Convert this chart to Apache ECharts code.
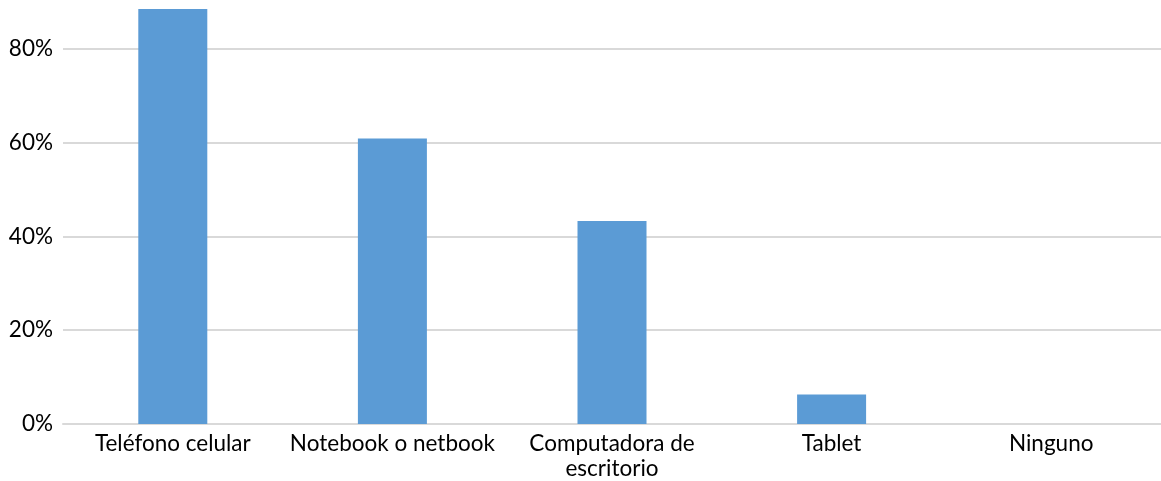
<!DOCTYPE html>
<html><head><meta charset="utf-8">
<script src="https://cdn.jsdelivr.net/npm/echarts@6/dist/echarts.min.js"></script>
<style>html,body{margin:0;padding:0;background:#fff}#c{width:1161px;height:481px}</style>
</head><body><div id="c"></div>
<script>
const categories = ['Teléfono celular', 'Notebook o netbook', 'Computadora de\nescritorio', 'Tablet', 'Ninguno'];
const values = [0.885, 0.609, 0.433, 0.063, 0];
const yMin = 0, yMax = 0.9, yStep = 0.2;

const chart = echarts.init(document.getElementById('c'));
chart.setOption({
  animation: false,
  grid: { left: 63, top: 2, width: 1102, bottom: 57, containLabel: false },
  xAxis: {
    type: 'category', data: categories,
    axisLine: { lineStyle: { color: '#d9d9d9', width: 2 } },
    axisTick: { show: false },
    axisLabel: { color: '#000', fontFamily: 'Lato', fontSize: 22.5, lineHeight: 25, margin: 7, interval: 0 }
  },
  yAxis: {
    type: 'value', min: yMin, max: yMax, interval: yStep,
    axisLine: { show: false }, axisTick: { show: false },
    splitLine: { showMaxLine: false, lineStyle: { color: '#d9d9d9', width: 2 } },
    axisLabel: { color: '#000', fontFamily: 'Lato', fontSize: 22.5, margin: 10, showMaxLabel: false,
      formatter: v => Math.round(v * 100) + '%' }
  },
  series: [{
    type: 'bar', data: values, barWidth: 69,
    itemStyle: { color: '#5b9bd5' }
  }]
});
</script></body></html>
